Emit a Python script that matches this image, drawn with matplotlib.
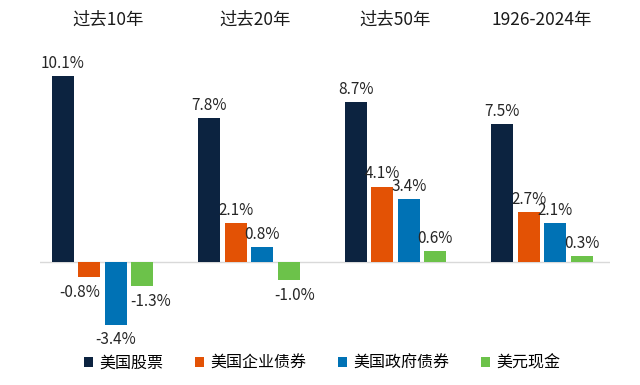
import matplotlib
matplotlib.use("Agg")
import matplotlib.pyplot as plt
import numpy as np

plt.rcParams['font.family'] = ['Noto Sans CJK SC', 'DejaVu Sans']

groups = ["过去10年", "过去20年", "过去50年", "1926-2024年"]
series = ["美国股票", "美国企业债券", "美国政府债券", "美元现金"]
stocks = [10.1, 7.8, 8.7, 7.5]
corp_bonds = [-0.8, 2.1, 4.1, 2.7]
gov_bonds = [-3.4, 0.8, 3.4, 2.1]
cash = [-1.3, -1.0, 0.6, 0.3]
values = [stocks, corp_bonds, gov_bonds, cash]
colors = ["#0c2340", "#e35205", "#0072b5", "#6cc24a"]

# label nudges in points (dx) for crowded negative labels
nudge_x = {(1, 0): -7, (3, 0): 6, (3, 1): 4}

fig = plt.figure(figsize=(6.4, 3.85), dpi=100)
ax = fig.add_axes([40/640, 50/385, 570/640, 275/385])

x = np.arange(len(groups))
pitch = 0.181
width = 0.15
offsets = (np.arange(4) - 1.5) * pitch

for i, (name, vals, c) in enumerate(zip(series, values, colors)):
    bars = ax.bar(x + offsets[i], vals, width, color=c, label=name, zorder=2)
    for j, (b, v) in enumerate(zip(bars, vals)):
        dx = nudge_x.get((i, j), 0)
        if v >= 0:
            ax.annotate(f"{v:.1f}%", (b.get_x() + b.get_width()/2, v),
                        xytext=(dx, 3), textcoords="offset points",
                        ha="center", va="bottom", fontsize=11, color="#262626")
        else:
            ax.annotate(f"{v:.1f}%", (b.get_x() + b.get_width()/2, v),
                        xytext=(dx, -5), textcoords="offset points",
                        ha="center", va="top", fontsize=11, color="#262626")

ax.axhline(0, color="#d9d9d9", lw=1, zorder=1)
ax.set_xlim(-0.427, 3.464)
ax.set_ylim(-3.97, 10.98)
ax.axis("off")

for j, g in enumerate(groups):
    fig.text((102.5 + 146.5 * x[j] + (6 if j < 2 else 0)) / 640, 1 - 20/385, g,
             ha="center", va="center", fontsize=12.5, color="#1a1a1a")

fig.legend(loc="center", bbox_to_anchor=(322/640, 1 - 363/385), ncol=4,
           frameon=False, fontsize=11.5, handlelength=0.55, handleheight=0.55,
           handletextpad=0.4, columnspacing=2.0)

fig.savefig("out.png", dpi=100)
